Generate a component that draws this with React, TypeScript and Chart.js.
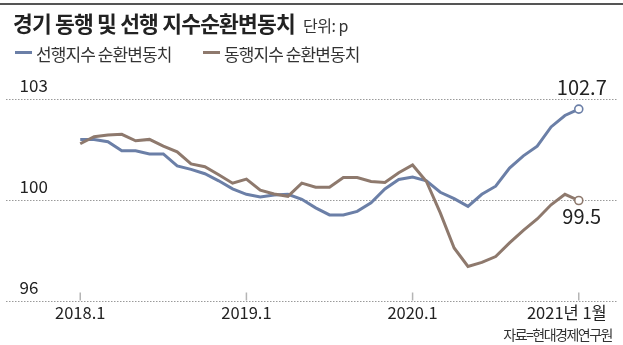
import React, { useEffect, useRef } from 'react';
import { Chart, LineController, LineElement, PointElement, LinearScale } from 'chart.js';

// ---------------- data ----------------
const titleText = '경기 동행 및 선행 지수순환변동치';
const unitText = '단위: p';
const sourceText = '자료=현대경제연구원';
const seriesNames = ['선행지수 순환변동치', '동행지수 순환변동치'];
const seriesColors = ['#6b7fa7', '#8e796d'];

// month index 0 = 2018.1 ... 36 = 2021.1
const xTickIndex = [0, 12, 24, 36];
const xTickLabels = ['2018.1', '2019.1', '2020.1', '2021년 1월'];
const yTicks = [96, 100, 103];

const leadingValues = [
  101.8, 101.8, 101.73, 101.46, 101.46, 101.37, 101.37, 101.01, 100.91, 100.78,
  100.57, 100.33, 100.17, 100.09, 100.15, 100.17, 100.02, 99.69, 99.41, 99.41,
  99.55, 99.89, 100.33, 100.61, 100.68, 100.57, 100.23, 100.04, 99.75, 100.17,
  100.41, 100.95, 101.31, 101.6, 102.17, 102.51, 102.7,
];
const coincidentValues = [
  101.67, 101.88, 101.93, 101.95, 101.76, 101.8, 101.6, 101.43, 101.07, 100.99,
  100.75, 100.5, 100.62, 100.29, 100.18, 100.11, 100.5, 100.38, 100.38, 100.67,
  100.67, 100.55, 100.52, 100.81, 101.04, 100.55, 99.49, 98.1, 97.37, 97.53,
  97.76, 98.3, 98.8, 99.25, 99.81, 100.17, 99.98,
];
const endLabels = ['102.7', '99.5'];

const FONT = '"Noto Sans CJK KR", "Noto Sans", sans-serif';

// -------- axis whose ticks are evenly spaced (piecewise linear) --------
function valueToDecimal(v: number): number {
  const n = yTicks.length - 1;
  let k = 0;
  while (k < n - 1 && v > yTicks[k + 1]) k++;
  return (k + (v - yTicks[k]) / (yTicks[k + 1] - yTicks[k])) / n;
}
function decimalToValue(d: number): number {
  const n = yTicks.length - 1;
  const pos = d * n;
  let k = Math.floor(pos);
  if (k < 0) k = 0;
  if (k > n - 1) k = n - 1;
  return yTicks[k] + (pos - k) * (yTicks[k + 1] - yTicks[k]);
}

class EvenTickScale extends LinearScale {
  static id = 'evenTick';
  static defaults = LinearScale.defaults;
  getPixelForValue(value: number) {
    return this.getPixelForDecimal(valueToDecimal(value));
  }
  getValueForPixel(pixel: number) {
    return decimalToValue(this.getDecimalForPixel(pixel));
  }
}

Chart.register(LineController, LineElement, PointElement, LinearScale, EvenTickScale);

const decorPlugin = {
  id: 'decor',
  afterDatasetsDraw(chart: any) {
    const { ctx, chartArea, scales } = chart;
    const xs = scales.x;
    ctx.save();
    // small tick marks rising from the bottom line
    ctx.strokeStyle = '#b5b5b5';
    ctx.lineWidth = 1.5;
    xTickIndex.forEach((v) => {
      const px = xs.getPixelForValue(v);
      ctx.beginPath();
      ctx.moveTo(px, chartArea.bottom - 0.5);
      ctx.lineTo(px, chartArea.bottom - 8.5);
      ctx.stroke();
    });
    // x labels
    ctx.fillStyle = '#222';
    ctx.font = `16.5px ${FONT}`;
    ctx.textBaseline = 'alphabetic';
    xTickIndex.forEach((v, i) => {
      const px = xs.getPixelForValue(v);
      const last = i === xTickIndex.length - 1;
      ctx.textAlign = last ? 'right' : 'center';
      ctx.fillText(xTickLabels[i], last ? px + 28 : px, chartArea.bottom + 17.5);
    });
    // end value labels
    ctx.font = `20px ${FONT}`;
    ctx.textAlign = 'center';
    chart.data.datasets.forEach((ds: any, di: number) => {
      const meta = chart.getDatasetMeta(di);
      const pt = meta.data[meta.data.length - 1];
      if (!pt) return;
      const above = di === 0;
      ctx.fillText(endLabels[di], pt.x + 3, above ? pt.y - 14.4 : pt.y + 23.3);
    });
    ctx.restore();
  },
};

export default function App() {
  const canvasRef = useRef<HTMLCanvasElement | null>(null);

  useEffect(() => {
    const canvas = canvasRef.current;
    if (!canvas) return;
    const lastIdx = leadingValues.length - 1;
    const mk = (vals: number[], i: number, order: number) => ({
      label: seriesNames[i],
      data: vals.map((y, x) => ({ x, y })),
      borderColor: seriesColors[i],
      backgroundColor: seriesColors[i],
      borderWidth: 3,
      tension: 0,
      order,
      pointRadius: (c: any) => (c.dataIndex === lastIdx ? 4 : 0),
      pointHoverRadius: 0,
      pointBackgroundColor: '#ffffff',
      pointBorderColor: seriesColors[i],
      pointBorderWidth: 1.6,
      clip: false as any,
    });
    const chart = new Chart(canvas, {
      type: 'line',
      data: {
        datasets: [mk(leadingValues, 0, 1), mk(coincidentValues, 1, 0)],
      },
      options: {
        animation: false,
        responsive: false,
        events: [],
        layout: { padding: { top: 99, bottom: 44, left: 0, right: 0 } },
        plugins: { legend: { display: false }, tooltip: { enabled: false }, title: { display: false } },
        scales: {
          x: {
            type: 'linear',
            display: false,
            min: -5.39,
            max: 38.79,
          },
          y: {
            type: 'evenTick' as any,
            min: yTicks[0],
            max: yTicks[yTicks.length - 1],
            afterBuildTicks: (scale: any) => {
              scale.ticks = yTicks.map((value) => ({ value }));
            },
            afterFit: (scale: any) => {
              scale.width = 0;
            },
            grid: { color: '#9a9a9a', lineWidth: 1, drawTicks: false },
            border: { display: false, dash: [1.5, 1.5] },
            ticks: {
              mirror: true,
              padding: 14,
              labelOffset: -13,
              color: '#222',
              font: { family: FONT, size: 17 },
              callback: (v: any) => String(v),
            },
          },
        },
      } as any,
      plugins: [decorPlugin],
    });
    return () => chart.destroy();
  }, []);

  const legendItem = (i: number, left: number) => (
    <div key={i} style={{ position: 'absolute', left, top: 44, height: 19, whiteSpace: 'nowrap' }}>
      <div style={{ position: 'absolute', left: 0, top: 7, width: 17, height: 3, background: seriesColors[i] }} />
      <div
        style={{
          position: 'absolute',
          left: 21,
          top: 0,
          fontFamily: FONT,
          fontSize: 17,
          lineHeight: '19px',
          letterSpacing: '-0.9px',
          color: '#333',
        }}
      >
        {seriesNames[i]}
      </div>
    </div>
  );

  return (
    <div style={{ position: 'absolute', left: 0, top: 0, width: 623, height: 345, background: '#fff', overflow: 'hidden' }}>
      <canvas ref={canvasRef} width={623} height={345} style={{ position: 'absolute', left: 0, top: 0, width: 623, height: 345 }} />
      <div style={{ position: 'absolute', left: 0, top: 3, width: 623, height: 2, background: '#555' }} />
      <div
        style={{
          position: 'absolute',
          left: 13,
          top: 11,
          whiteSpace: 'nowrap',
          fontFamily: FONT,
          color: '#222',
          lineHeight: '24px',
        }}
      >
        <span style={{ fontSize: 21.5, fontWeight: 700, letterSpacing: '-0.8px' }}>{titleText}</span>
        <span style={{ fontSize: 16, letterSpacing: '-0.5px', marginLeft: 8, color: '#333' }}>{unitText}</span>
      </div>
      {legendItem(0, 15)}
      {legendItem(1, 203)}
      <div
        style={{
          position: 'absolute',
          right: 11,
          top: 326,
          whiteSpace: 'nowrap',
          fontFamily: FONT,
          fontSize: 14,
          lineHeight: '16px',
          letterSpacing: '-1.5px',
          color: '#333',
        }}
      >
        {sourceText}
      </div>
    </div>
  );
}
